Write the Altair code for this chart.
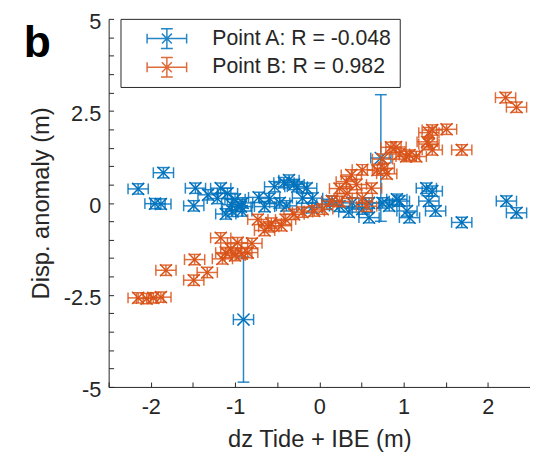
import altair as alt
import pandas as pd

# ---------------- data ----------------
SERIES = ["Point A: R = -0.048", "Point B: R = 0.982"]
COLORS = ["#0072BD", "#D95319"]

A_X = [-2.15, -1.85, -1.95, -1.88, -1.47, -1.49, -1.32, -1.17, -1.21, -1.09,
       -1.00, -1.11, -1.03, -0.93, -1.04, -0.91, -0.92, -0.53, -0.36, -0.26,
       -0.59, -0.65, -0.47, -0.39, -0.20, -0.09, 0.09, -0.15, -0.08, 0.24,
       0.39, 0.51, 0.59, 0.75, 0.83, 0.92, 1.04, 1.07, 1.27, 1.30,
       0.59, 2.22, 2.34, 1.69, 1.34, 1.38, 0.95, 0.73, -0.90, -0.42,
       -0.30, 0.15, 0.35, -0.72]
A_Y = [0.38, 0.82, -0.02, -0.03, 0.40, -0.08, 0.22, 0.40, 0.12, 0.26,
       0.10, -0.30, -0.23, -0.10, -0.05, 0.00, -0.22, 0.44, 0.62, 0.44,
       0.12, -0.10, 0.00, -0.08, 0.13, -0.13, -0.04, 0.40, 0.13, -0.09,
       0.00, -0.17, 0.00, 0.00, -0.08, 0.10, -0.22, -0.40, 0.40, 0.05,
       -0.40, 0.05, -0.27, -0.53, 0.32, -0.22, 0.05, 1.22, -3.17, 0.55,
       0.50, 0.05, -0.25, 0.15]
A_XERR = [0.12] * len(A_X)
A_YERR = [0.14] * 47 + [1.72, 1.70] + [0.14] * 5

B_X = [-2.15, -1.97, -1.88, -2.05, -1.82, -1.48, -1.49, -1.33, -1.17, -0.97,
       -1.11, -1.15, -1.00, -0.92, -0.85, -1.05, -0.73, -0.57, -0.45, -0.65,
       -0.30, -0.06, -0.20, 0.04, -0.60, -0.40, 0.24, 0.24, 0.33, 0.32,
       0.44, 0.38, 0.51, 0.56, 0.51, 0.69, 0.80, 0.77, 0.75, 0.85,
       0.95, 1.07, 1.03, 1.15, 0.91, 1.30, 1.30, 1.34, 1.51, 1.69,
       1.34, 1.28, 2.21, 2.34, 0.62, 0.15, -0.80]
B_Y = [-2.58, -2.58, -2.56, -2.60, -1.83, -1.54, -2.10, -1.89, -0.95, -1.08,
       -1.35, -1.52, -1.43, -1.38, -1.35, -1.25, -0.45, -0.55, -0.62, -0.75,
       -0.31, -0.22, -0.25, -0.17, -0.65, -0.45, 0.04, 0.39, 0.26, 0.58,
       0.50, 0.76, 0.13, -0.09, 0.90, 0.89, 0.79, 0.94, 1.19, 1.51,
       1.33, 1.30, 1.26, 1.26, 1.52, 1.91, 1.60, 1.98, 2.00, 1.44,
       1.44, 1.66, 2.86, 2.60, 0.40, 0.05, -1.10]
B_XERR = [0.12] * len(B_X)
B_YERR = [0.14] * len(B_X)

X_LABELS = [-2, -1, 0, 1, 2]
Y_LABELS = [-5, -2.5, 0, 2.5, 5]
X_TICKS = [-2.5, -2, -1.5, -1, -0.5, 0, 0.5, 1, 1.5, 2, 2.5]
Y_TICKS = [-5, -4.5, -4, -3.5, -3, -2.5, -2, -1.5, -1, -0.5, 0,
           0.5, 1, 1.5, 2, 2.5, 3, 3.5, 4, 4.5, 5]

# ---------------- tables ----------------
def frame(name, xs, ys, xe, ye):
    d = pd.DataFrame({"x": xs, "y": ys, "xe": xe, "ye": ye})
    d["series"] = name
    d["xlo"] = d.x - d.xe
    d["xhi"] = d.x + d.xe
    d["ylo"] = d.y - d.ye
    d["yhi"] = d.y + d.ye
    return d

dfs = [frame(SERIES[0], A_X, A_Y, A_XERR, A_YERR),
       frame(SERIES[1], B_X, B_Y, B_XERR, B_YERR)]

INK = "#262626"
W, H = 427, 373
xs = alt.Scale(domain=[-2.5, 2.5], nice=False, zero=False)
ys = alt.Scale(domain=[-5, 5], nice=False, zero=False)
cs = alt.Scale(domain=SERIES, range=COLORS)

main_x = alt.Axis(orient="bottom", values=X_LABELS, ticks=False, grid=False,
                  labelExpr="toString(datum.value)", labelFontSize=22,
                  labelColor=INK, labelPadding=10, domainColor=INK,
                  domainWidth=1, title="dz Tide + IBE (m)", titleFontSize=24,
                  titleFontWeight="normal", titleColor=INK, titlePadding=10)
main_y = alt.Axis(orient="left", values=Y_LABELS, ticks=False, grid=False,
                  labelExpr="toString(datum.value)", labelFontSize=22,
                  labelColor=INK, labelPadding=8, labelOffset=3,
                  domainColor=INK, domainWidth=1, title="Disp. anomaly (m)",
                  titleFontSize=24, titleFontWeight="normal", titleColor=INK,
                  titlePadding=10)
in_x = alt.Axis(orient="top", offset=-H, values=X_TICKS, labels=False,
                domain=False, grid=False, tickSize=5, tickColor=INK,
                tickWidth=1, title=None)
in_y = alt.Axis(orient="right", offset=-W, values=Y_TICKS, labels=False,
                domain=False, grid=False, tickSize=5, tickColor=INK,
                tickWidth=1, title=None)

LEG_PATH = ("M-1.67,0H1.67M-1.67,-0.42V0.42M1.67,-0.42V0.42"
            "M0,-0.83V0.83M-0.5,-0.83H0.5M-0.5,0.83H0.5"
            "M-0.42,-0.42L0.42,0.42M-0.42,0.42L0.42,-0.42")
legend = alt.Legend(title=None, orient="none", legendX=12, legendY=0,
                    symbolType=LEG_PATH, symbolSize=576, symbolStrokeWidth=1.5,
                    symbolFillColor="transparent", symbolOffset=27,
                    labelOffset=33, labelFontSize=21.5, labelColor=INK,
                    labelLimit=400, rowPadding=3, padding=7,
                    fillColor="white", strokeColor=INK)

XPATH = "M-1,-1L1,1M-1,1L1,-1"
layers = []
first = True
for d in dfs:
    base = alt.Chart(d)
    col = alt.Color("series:N", scale=cs, legend=legend if first else None)
    colN = alt.Color("series:N", scale=cs, legend=None)
    hbar = base.mark_rule(strokeWidth=1.5, opacity=0.85).encode(
        x=alt.X("xlo:Q", scale=xs, axis=main_x if first else None),
        x2="xhi:Q",
        y=alt.Y("y:Q", scale=ys, axis=main_y if first else None),
        color=col)
    vbar = base.mark_rule(strokeWidth=1.5, opacity=0.85).encode(
        x=alt.X("x:Q", scale=xs, axis=None),
        y=alt.Y("ylo:Q", scale=ys, axis=None), y2="yhi:Q", color=colN)
    lcap = base.mark_tick(orient="vertical", size=11, thickness=1.5, opacity=0.85).encode(
        x=alt.X("xlo:Q", scale=xs, axis=None), y=alt.Y("y:Q", scale=ys, axis=None), color=colN)
    rcap = base.mark_tick(orient="vertical", size=11, thickness=1.5, opacity=0.85).encode(
        x=alt.X("xhi:Q", scale=xs, axis=None), y=alt.Y("y:Q", scale=ys, axis=None), color=colN)
    bcap = base.mark_tick(orient="horizontal", size=12, thickness=1.5, opacity=0.85).encode(
        x=alt.X("x:Q", scale=xs, axis=None), y=alt.Y("ylo:Q", scale=ys, axis=None), color=colN)
    tcap = base.mark_tick(orient="horizontal", size=12, thickness=1.5, opacity=0.85).encode(
        x=alt.X("x:Q", scale=xs, axis=None), y=alt.Y("yhi:Q", scale=ys, axis=None), color=colN)
    pts = base.mark_point(shape=XPATH, size=150, strokeWidth=1.5, filled=False, opacity=1).encode(
        x=alt.X("x:Q", scale=xs, axis=in_x if first else None),
        y=alt.Y("y:Q", scale=ys, axis=in_y if first else None),
        color=colN)
    layers += [hbar, vbar, lcap, rcap, bcap, tcap, pts]
    first = False

label_b = alt.Chart(pd.DataFrame({"t": ["b"]})).mark_text(
    fontSize=45, fontWeight="bold", align="left", baseline="alphabetic",
    color="black", font="Liberation Sans").encode(
    text="t:N", x=alt.value(-86), y=alt.value(39))
layers.append(label_b)

chart = alt.layer(*layers).properties(
    width=W, height=H,
    autosize=alt.AutoSizeParams(type="none"),
    padding={"left": 102, "top": 8, "right": 0, "bottom": 70},
).configure(font="Liberation Sans").configure_view(stroke=None)

chart.save("out.html", embed_options={"renderer": "svg", "actions": False})
